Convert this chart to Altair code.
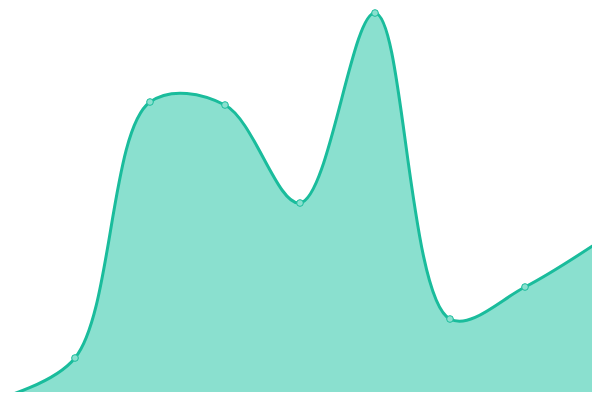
import altair as alt
import pandas as pd

idx = [0, 1, 2, 3, 4, 5, 6, 7, 8]
values = [0.5, 10.5, 74.5, 73.75, 49.25, 96.75, 20.25, 28.25, 39.75]

df = pd.DataFrame({"i": idx, "v": values})

x = alt.X("i:Q", axis=None, scale=alt.Scale(domain=[8 / 75, 592 / 75], nice=False, zero=False))
y = alt.Y("v:Q", axis=None, scale=alt.Scale(domain=[2, 98], nice=False, zero=False))

base = alt.Chart(df).encode(x=x, y=y)

area = base.mark_area(
    interpolate="catmull-rom", color="#8ae0cf", opacity=1, clip=True
)
line = base.mark_line(
    interpolate="catmull-rom", color="#1abc9c", strokeWidth=3, clip=True
)
pts = base.mark_point(
    filled=True, shape="circle", size=45, fill="#8ae0cf", stroke="#1abc9c",
    strokeWidth=1, opacity=1, clip=True
)

chart = (area + line + pts).properties(
    width=584, height=384, padding=0, autosize=alt.AutoSizeParams(type="none")
).configure_view(stroke=None)

chart.save("out.html", embed_options={"renderer": "svg", "actions": False})
